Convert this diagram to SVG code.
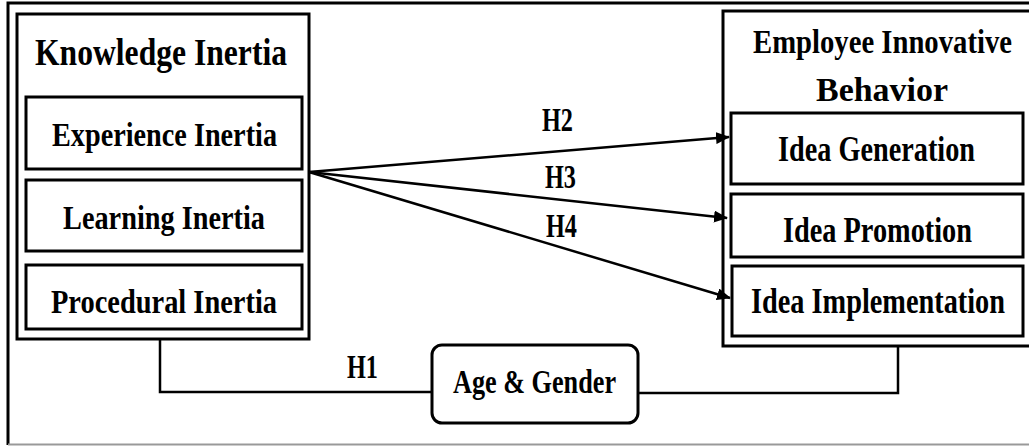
<svg xmlns="http://www.w3.org/2000/svg" width="1029" height="446" viewBox="0 0 1029 446">
<style>
.box{fill:#fff;stroke:#000;stroke-width:3}
.t{font-family:"Liberation Serif","Times New Roman",serif;font-weight:bold;fill:#000;text-anchor:middle}
.conn{fill:none;stroke:#000;stroke-width:2.5}
</style>
<defs>
<marker id="ah" markerUnits="userSpaceOnUse" markerWidth="14" markerHeight="12" refX="13" refY="6" orient="auto">
<path d="M0,0 L14,6 L0,12 Z" fill="#000"/>
</marker>
</defs>
<rect width="1029" height="446" fill="#fff"/>
<g id="frame">
<path d="M1035 3 H8 V445" fill="none" stroke="#000" stroke-width="3"/>
<line x1="8" y1="444.5" x2="1029" y2="444.5" stroke="#999" stroke-width="2"/>
</g>
<g id="knowledge-inertia">
<rect class="box" x="17" y="14" width="292" height="325"/>
<text class="t" transform="translate(161,65) scale(0.83,1)" font-size="38" textLength="303.6" lengthAdjust="spacingAndGlyphs">Knowledge Inertia</text>
</g>
<g id="experience-inertia">
<rect class="box" x="26" y="97" width="276" height="72"/>
<text class="t" transform="translate(164.5,146) scale(0.85,1)" font-size="33" textLength="264.7" lengthAdjust="spacingAndGlyphs">Experience Inertia</text>
</g>
<g id="learning-inertia">
<rect class="box" x="26" y="180" width="276" height="71"/>
<text class="t" transform="translate(164,229) scale(0.85,1)" font-size="33" textLength="237.6" lengthAdjust="spacingAndGlyphs">Learning Inertia</text>
</g>
<g id="procedural-inertia">
<rect class="box" x="26" y="265" width="276" height="64"/>
<text class="t" transform="translate(164,313) scale(0.85,1)" font-size="33" textLength="265.9" lengthAdjust="spacingAndGlyphs">Procedural Inertia</text>
</g>
<g id="employee-innovative-behavior">
<path class="box" d="M1035 11 H723 V346 H1035"/>
<text class="t" transform="translate(882.5,53) scale(0.84,1)" font-size="34" textLength="308.3" lengthAdjust="spacingAndGlyphs">Employee Innovative</text>
<text class="t" transform="translate(882,101) scale(0.9,1)" font-size="34" textLength="146.7" lengthAdjust="spacingAndGlyphs">Behavior</text>
</g>
<g id="idea-generation">
<rect class="box" x="731" y="113" width="292" height="71"/>
<text class="t" transform="translate(876.5,161) scale(0.81,1)" font-size="35" textLength="243.2" lengthAdjust="spacingAndGlyphs">Idea Generation</text>
</g>
<g id="idea-promotion">
<rect class="box" x="731" y="194" width="292" height="63"/>
<text class="t" transform="translate(877.5,242) scale(0.81,1)" font-size="35" textLength="233.3" lengthAdjust="spacingAndGlyphs">Idea Promotion</text>
</g>
<g id="idea-implementation">
<rect class="box" x="732" y="266" width="291" height="70"/>
<text class="t" transform="translate(878,313) scale(0.81,1)" font-size="35" textLength="313.6" lengthAdjust="spacingAndGlyphs">Idea Implementation</text>
</g>
<g id="age-gender">
<rect class="box" x="432" y="345" width="206" height="78" rx="10"/>
<text class="t" transform="translate(534.5,393) scale(0.8,1)" font-size="33" textLength="203.8" lengthAdjust="spacingAndGlyphs">Age &amp; Gender</text>
</g>
<g id="connectors">
<line class="conn" x1="309" y1="172" x2="729" y2="137" marker-end="url(#ah)"/>
<line class="conn" x1="309" y1="172" x2="727" y2="218" marker-end="url(#ah)"/>
<line class="conn" x1="309" y1="172" x2="730" y2="298" marker-end="url(#ah)"/>
<path class="conn" d="M160 339 V392 H432"/>
<path class="conn" d="M638 393 H898 V346"/>
<text class="t" transform="translate(557.5,131) scale(0.75,1)" font-size="33" textLength="41.3" lengthAdjust="spacingAndGlyphs">H2</text>
<text class="t" transform="translate(560.5,188) scale(0.75,1)" font-size="33" textLength="41.3" lengthAdjust="spacingAndGlyphs">H3</text>
<text class="t" transform="translate(561.5,237) scale(0.75,1)" font-size="33" textLength="41.3" lengthAdjust="spacingAndGlyphs">H4</text>
<text class="t" transform="translate(362.5,378) scale(0.75,1)" font-size="33" textLength="41.3" lengthAdjust="spacingAndGlyphs">H1</text>
</g>
</svg>
